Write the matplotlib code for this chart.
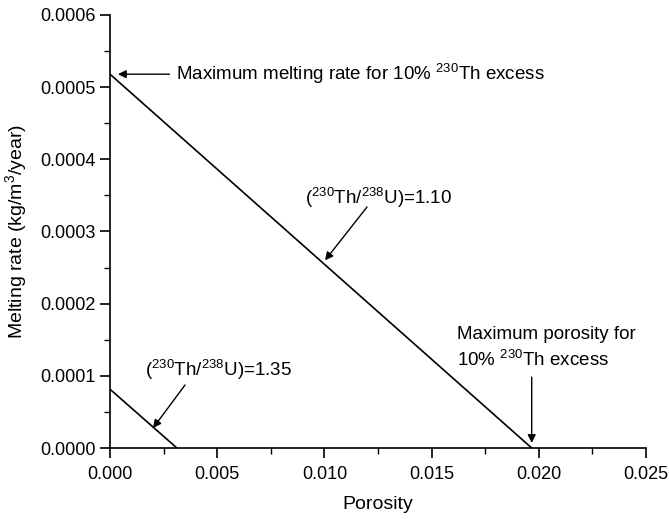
import matplotlib
matplotlib.use("Agg")
import matplotlib.pyplot as plt
from matplotlib.ticker import MultipleLocator, FormatStrFormatter

plt.rcParams['font.family'] = ['Liberation Sans', 'DejaVu Sans']
plt.rcParams['mathtext.fontset'] = 'custom'
plt.rcParams['mathtext.rm'] = 'Liberation Sans'
plt.rcParams['mathtext.it'] = 'Liberation Sans:italic'

# Data
porosity_110 = [0.0, 0.01967]
rate_110 = [0.000518, 0.0]
porosity_135 = [0.0, 0.00312]
rate_135 = [0.0000815, 0.0]

xticks = [0.000, 0.005, 0.010, 0.015, 0.020, 0.025]
yticks = [0.0000, 0.0001, 0.0002, 0.0003, 0.0004, 0.0005, 0.0006]

fig = plt.figure(figsize=(6.69, 5.19), dpi=100)
ax = fig.add_axes([0.1644, 0.1368, 0.8012, 0.8343])

ax.plot(porosity_110, rate_110, color='black', lw=1.2)
ax.plot(porosity_135, rate_135, color='black', lw=1.2)

ax.set_xlim(0, 0.025)
ax.set_ylim(0, 0.0006)
ax.set_xticks(xticks)
ax.set_yticks(yticks)
ax.xaxis.set_minor_locator(MultipleLocator(0.0025))
ax.yaxis.set_minor_locator(MultipleLocator(0.00005))
ax.xaxis.set_major_formatter(FormatStrFormatter('%.3f'))
ax.yaxis.set_major_formatter(FormatStrFormatter('%.4f'))

for s in ['top', 'right']:
    ax.spines[s].set_visible(False)
for s in ['left', 'bottom']:
    ax.spines[s].set_linewidth(1.2)
ax.tick_params(which='major', direction='out', length=7, width=1.2, labelsize=13, colors='black')
ax.tick_params(which='minor', direction='out', length=4, width=1.0)
ax.tick_params(axis='x', pad=6)
ax.tick_params(axis='y', pad=3)

ax.set_xlabel('Porosity', fontsize=14, labelpad=9)
ax.set_ylabel('Melting rate (kg/m$^{3}$/year)', fontsize=14, labelpad=8)

arrow = dict(arrowstyle='-|>', color='black', lw=1.0, mutation_scale=12, shrinkA=0, shrinkB=0)
FS = 13.5

ax.annotate('Maximum melting rate for 10% $^{230}$Th excess',
            xy=(0.00037, 0.000518), xytext=(0.0031, 0.000518),
            fontsize=FS, va='center', ha='left',
            arrowprops=dict(arrow, shrinkA=3))

ax.text(0.00909, 0.000346, '($^{230}$Th/$^{238}$U)=1.10',
        fontsize=FS, va='center', ha='left')
ax.annotate('', xy=(0.01003, 0.000260), xytext=(0.01199, 0.000334),
            arrowprops=arrow)

ax.text(0.00163, 0.000108, '($^{230}$Th/$^{238}$U)=1.35',
        fontsize=FS, va='center', ha='left')
ax.annotate('', xy=(0.00201, 0.0000277), xytext=(0.0035, 0.0000873),
            arrowprops=arrow)

ax.text(0.01619, 0.0001385, 'Maximum porosity for\n10% $^{230}$Th excess',
        fontsize=FS, va='center', ha='left', linespacing=1.45)
ax.annotate('', xy=(0.01967, 0.000007), xytext=(0.01967, 0.0000983),
            arrowprops=arrow)

fig.savefig('out.png', dpi=100)
